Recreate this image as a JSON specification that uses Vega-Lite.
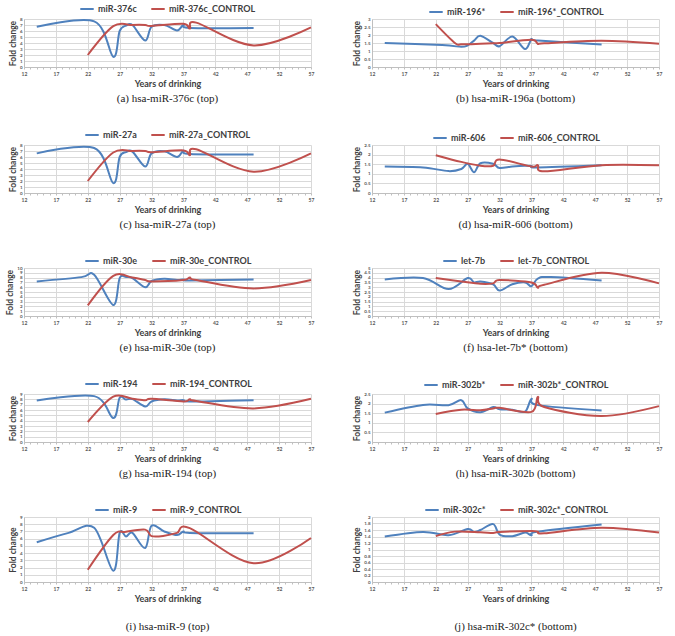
{
"$schema": "https://vega.github.io/schema/vega-lite/v6.json",
"padding": {"left": 5, "top": 1, "right": 4, "bottom": 2},
"background": "white",
"data": {"values": [
{"panel":"a","series":"miR-376c","year":14,"fold":6.7},{"panel":"a","series":"miR-376c","year":23,"fold":7.6},{"panel":"a","series":"miR-376c","year":26,"fold":1.7},{"panel":"a","series":"miR-376c","year":27,"fold":6.0},{"panel":"a","series":"miR-376c","year":28,"fold":6.9},{"panel":"a","series":"miR-376c","year":29,"fold":7.0},{"panel":"a","series":"miR-376c","year":31,"fold":4.4},{"panel":"a","series":"miR-376c","year":32,"fold":6.7},{"panel":"a","series":"miR-376c","year":34,"fold":7.0},{"panel":"a","series":"miR-376c","year":36,"fold":6.1},{"panel":"a","series":"miR-376c","year":37,"fold":7.0},{"panel":"a","series":"miR-376c","year":38,"fold":6.5},{"panel":"a","series":"miR-376c","year":48,"fold":6.5},
{"panel":"a","series":"miR-376c_CONTROL","year":22,"fold":2.0},{"panel":"a","series":"miR-376c_CONTROL","year":26,"fold":6.8},{"panel":"a","series":"miR-376c_CONTROL","year":29,"fold":7.0},{"panel":"a","series":"miR-376c_CONTROL","year":31,"fold":7.0},{"panel":"a","series":"miR-376c_CONTROL","year":32,"fold":6.85},{"panel":"a","series":"miR-376c_CONTROL","year":37,"fold":7.2},{"panel":"a","series":"miR-376c_CONTROL","year":38,"fold":6.4},{"panel":"a","series":"miR-376c_CONTROL","year":39,"fold":7.4},{"panel":"a","series":"miR-376c_CONTROL","year":48,"fold":3.6},{"panel":"a","series":"miR-376c_CONTROL","year":57,"fold":6.6},
{"panel":"b","series":"miR-196*","year":14,"fold":1.5},{"panel":"b","series":"miR-196*","year":23,"fold":1.37},{"panel":"b","series":"miR-196*","year":26,"fold":1.26},{"panel":"b","series":"miR-196*","year":27,"fold":1.35},{"panel":"b","series":"miR-196*","year":28,"fold":1.65},{"panel":"b","series":"miR-196*","year":29,"fold":1.95},{"panel":"b","series":"miR-196*","year":31,"fold":1.5},{"panel":"b","series":"miR-196*","year":32,"fold":1.3},{"panel":"b","series":"miR-196*","year":34,"fold":1.9},{"panel":"b","series":"miR-196*","year":36,"fold":1.12},{"panel":"b","series":"miR-196*","year":37,"fold":1.72},{"panel":"b","series":"miR-196*","year":38,"fold":1.65},{"panel":"b","series":"miR-196*","year":48,"fold":1.4},
{"panel":"b","series":"miR-196*_CONTROL","year":22,"fold":2.68},{"panel":"b","series":"miR-196*_CONTROL","year":25,"fold":1.5},{"panel":"b","series":"miR-196*_CONTROL","year":26,"fold":1.42},{"panel":"b","series":"miR-196*_CONTROL","year":29,"fold":1.45},{"panel":"b","series":"miR-196*_CONTROL","year":31,"fold":1.48},{"panel":"b","series":"miR-196*_CONTROL","year":32,"fold":1.5},{"panel":"b","series":"miR-196*_CONTROL","year":37,"fold":1.7},{"panel":"b","series":"miR-196*_CONTROL","year":38,"fold":1.45},{"panel":"b","series":"miR-196*_CONTROL","year":39,"fold":1.48},{"panel":"b","series":"miR-196*_CONTROL","year":48,"fold":1.64},{"panel":"b","series":"miR-196*_CONTROL","year":57,"fold":1.45},
{"panel":"c","series":"miR-27a","year":14,"fold":6.6},{"panel":"c","series":"miR-27a","year":23,"fold":7.5},{"panel":"c","series":"miR-27a","year":26,"fold":1.65},{"panel":"c","series":"miR-27a","year":27,"fold":6.0},{"panel":"c","series":"miR-27a","year":28,"fold":6.8},{"panel":"c","series":"miR-27a","year":29,"fold":6.9},{"panel":"c","series":"miR-27a","year":31,"fold":4.4},{"panel":"c","series":"miR-27a","year":32,"fold":6.6},{"panel":"c","series":"miR-27a","year":34,"fold":6.95},{"panel":"c","series":"miR-27a","year":36,"fold":6.0},{"panel":"c","series":"miR-27a","year":37,"fold":7.05},{"panel":"c","series":"miR-27a","year":38,"fold":6.5},{"panel":"c","series":"miR-27a","year":48,"fold":6.4},
{"panel":"c","series":"miR-27a_CONTROL","year":22,"fold":2.0},{"panel":"c","series":"miR-27a_CONTROL","year":26,"fold":6.75},{"panel":"c","series":"miR-27a_CONTROL","year":29,"fold":7.0},{"panel":"c","series":"miR-27a_CONTROL","year":31,"fold":7.0},{"panel":"c","series":"miR-27a_CONTROL","year":32,"fold":6.8},{"panel":"c","series":"miR-27a_CONTROL","year":37,"fold":7.1},{"panel":"c","series":"miR-27a_CONTROL","year":38,"fold":6.3},{"panel":"c","series":"miR-27a_CONTROL","year":39,"fold":7.3},{"panel":"c","series":"miR-27a_CONTROL","year":48,"fold":3.55},{"panel":"c","series":"miR-27a_CONTROL","year":57,"fold":6.6},
{"panel":"d","series":"miR-606","year":14,"fold":1.38},{"panel":"d","series":"miR-606","year":20,"fold":1.33},{"panel":"d","series":"miR-606","year":24,"fold":1.14},{"panel":"d","series":"miR-606","year":26,"fold":1.25},{"panel":"d","series":"miR-606","year":27,"fold":1.52},{"panel":"d","series":"miR-606","year":28,"fold":1.08},{"panel":"d","series":"miR-606","year":29,"fold":1.55},{"panel":"d","series":"miR-606","year":31,"fold":1.52},{"panel":"d","series":"miR-606","year":32,"fold":1.3},{"panel":"d","series":"miR-606","year":34,"fold":1.38},{"panel":"d","series":"miR-606","year":36,"fold":1.42},{"panel":"d","series":"miR-606","year":37,"fold":1.4},{"panel":"d","series":"miR-606","year":38,"fold":1.33},{"panel":"d","series":"miR-606","year":48,"fold":1.44},
{"panel":"d","series":"miR-606_CONTROL","year":22,"fold":1.97},{"panel":"d","series":"miR-606_CONTROL","year":26,"fold":1.62},{"panel":"d","series":"miR-606_CONTROL","year":29,"fold":1.42},{"panel":"d","series":"miR-606_CONTROL","year":31,"fold":1.42},{"panel":"d","series":"miR-606_CONTROL","year":32,"fold":1.75},{"panel":"d","series":"miR-606_CONTROL","year":37,"fold":1.38},{"panel":"d","series":"miR-606_CONTROL","year":38,"fold":1.45},{"panel":"d","series":"miR-606_CONTROL","year":39,"fold":1.13},{"panel":"d","series":"miR-606_CONTROL","year":48,"fold":1.45},{"panel":"d","series":"miR-606_CONTROL","year":57,"fold":1.44},
{"panel":"e","series":"miR-30e","year":14,"fold":7.2},{"panel":"e","series":"miR-30e","year":21,"fold":8.1},{"panel":"e","series":"miR-30e","year":23,"fold":8.6},{"panel":"e","series":"miR-30e","year":26,"fold":2.3},{"panel":"e","series":"miR-30e","year":27,"fold":7.9},{"panel":"e","series":"miR-30e","year":28,"fold":8.1},{"panel":"e","series":"miR-30e","year":29,"fold":7.9},{"panel":"e","series":"miR-30e","year":31,"fold":6.0},{"panel":"e","series":"miR-30e","year":32,"fold":7.3},{"panel":"e","series":"miR-30e","year":34,"fold":7.75},{"panel":"e","series":"miR-30e","year":36,"fold":7.5},{"panel":"e","series":"miR-30e","year":37,"fold":7.6},{"panel":"e","series":"miR-30e","year":38,"fold":7.4},{"panel":"e","series":"miR-30e","year":48,"fold":7.6},
{"panel":"e","series":"miR-30e_CONTROL","year":22,"fold":2.2},{"panel":"e","series":"miR-30e_CONTROL","year":26,"fold":8.35},{"panel":"e","series":"miR-30e_CONTROL","year":29,"fold":8.0},{"panel":"e","series":"miR-30e_CONTROL","year":31,"fold":7.5},{"panel":"e","series":"miR-30e_CONTROL","year":32,"fold":7.2},{"panel":"e","series":"miR-30e_CONTROL","year":37,"fold":7.5},{"panel":"e","series":"miR-30e_CONTROL","year":38,"fold":8.0},{"panel":"e","series":"miR-30e_CONTROL","year":39,"fold":7.5},{"panel":"e","series":"miR-30e_CONTROL","year":48,"fold":5.75},{"panel":"e","series":"miR-30e_CONTROL","year":57,"fold":7.5},
{"panel":"f","series":"let-7b","year":14,"fold":3.8},{"panel":"f","series":"let-7b","year":20,"fold":3.95},{"panel":"f","series":"let-7b","year":24,"fold":2.8},{"panel":"f","series":"let-7b","year":27,"fold":3.95},{"panel":"f","series":"let-7b","year":28,"fold":3.5},{"panel":"f","series":"let-7b","year":29,"fold":3.6},{"panel":"f","series":"let-7b","year":31,"fold":3.3},{"panel":"f","series":"let-7b","year":32,"fold":2.65},{"panel":"f","series":"let-7b","year":34,"fold":3.3},{"panel":"f","series":"let-7b","year":36,"fold":3.5},{"panel":"f","series":"let-7b","year":37,"fold":3.1},{"panel":"f","series":"let-7b","year":38,"fold":3.9},{"panel":"f","series":"let-7b","year":40,"fold":4.05},{"panel":"f","series":"let-7b","year":48,"fold":3.7},
{"panel":"f","series":"let-7b_CONTROL","year":22,"fold":3.97},{"panel":"f","series":"let-7b_CONTROL","year":26,"fold":3.6},{"panel":"f","series":"let-7b_CONTROL","year":29,"fold":3.35},{"panel":"f","series":"let-7b_CONTROL","year":31,"fold":3.4},{"panel":"f","series":"let-7b_CONTROL","year":32,"fold":3.75},{"panel":"f","series":"let-7b_CONTROL","year":37,"fold":3.5},{"panel":"f","series":"let-7b_CONTROL","year":38,"fold":2.95},{"panel":"f","series":"let-7b_CONTROL","year":39,"fold":3.25},{"panel":"f","series":"let-7b_CONTROL","year":48,"fold":4.5},{"panel":"f","series":"let-7b_CONTROL","year":57,"fold":3.4},
{"panel":"g","series":"miR-194","year":14,"fold":7.8},{"panel":"g","series":"miR-194","year":23,"fold":8.6},{"panel":"g","series":"miR-194","year":26,"fold":4.5},{"panel":"g","series":"miR-194","year":27,"fold":8.3},{"panel":"g","series":"miR-194","year":28,"fold":7.95},{"panel":"g","series":"miR-194","year":29,"fold":8.05},{"panel":"g","series":"miR-194","year":31,"fold":6.65},{"panel":"g","series":"miR-194","year":32,"fold":7.6},{"panel":"g","series":"miR-194","year":34,"fold":8.0},{"panel":"g","series":"miR-194","year":36,"fold":7.8},{"panel":"g","series":"miR-194","year":37,"fold":7.85},{"panel":"g","series":"miR-194","year":38,"fold":7.6},{"panel":"g","series":"miR-194","year":48,"fold":7.85},
{"panel":"g","series":"miR-194_CONTROL","year":22,"fold":3.75},{"panel":"g","series":"miR-194_CONTROL","year":26,"fold":8.5},{"panel":"g","series":"miR-194_CONTROL","year":29,"fold":8.1},{"panel":"g","series":"miR-194_CONTROL","year":31,"fold":7.85},{"panel":"g","series":"miR-194_CONTROL","year":32,"fold":8.1},{"panel":"g","series":"miR-194_CONTROL","year":37,"fold":7.6},{"panel":"g","series":"miR-194_CONTROL","year":38,"fold":8.0},{"panel":"g","series":"miR-194_CONTROL","year":39,"fold":7.7},{"panel":"g","series":"miR-194_CONTROL","year":48,"fold":6.3},{"panel":"g","series":"miR-194_CONTROL","year":57,"fold":8.1},
{"panel":"h","series":"miR-302b*","year":14,"fold":1.53},{"panel":"h","series":"miR-302b*","year":20,"fold":1.93},{"panel":"h","series":"miR-302b*","year":24,"fold":1.92},{"panel":"h","series":"miR-302b*","year":26,"fold":2.18},{"panel":"h","series":"miR-302b*","year":27,"fold":1.75},{"panel":"h","series":"miR-302b*","year":29,"fold":1.55},{"panel":"h","series":"miR-302b*","year":31,"fold":1.82},{"panel":"h","series":"miR-302b*","year":32,"fold":1.7},{"panel":"h","series":"miR-302b*","year":34,"fold":1.68},{"panel":"h","series":"miR-302b*","year":36,"fold":1.58},{"panel":"h","series":"miR-302b*","year":37,"fold":2.25},{"panel":"h","series":"miR-302b*","year":38,"fold":1.92},{"panel":"h","series":"miR-302b*","year":48,"fold":1.64},
{"panel":"h","series":"miR-302b*_CONTROL","year":22,"fold":1.46},{"panel":"h","series":"miR-302b*_CONTROL","year":26,"fold":1.68},{"panel":"h","series":"miR-302b*_CONTROL","year":29,"fold":1.65},{"panel":"h","series":"miR-302b*_CONTROL","year":31,"fold":1.75},{"panel":"h","series":"miR-302b*_CONTROL","year":32,"fold":1.78},{"panel":"h","series":"miR-302b*_CONTROL","year":37,"fold":1.57},{"panel":"h","series":"miR-302b*_CONTROL","year":38,"fold":2.35},{"panel":"h","series":"miR-302b*_CONTROL","year":39,"fold":1.82},{"panel":"h","series":"miR-302b*_CONTROL","year":48,"fold":1.35},{"panel":"h","series":"miR-302b*_CONTROL","year":57,"fold":1.87},
{"panel":"i","series":"miR-9","year":14,"fold":5.5},{"panel":"i","series":"miR-9","year":19,"fold":6.8},{"panel":"i","series":"miR-9","year":23,"fold":7.5},{"panel":"i","series":"miR-9","year":26,"fold":1.55},{"panel":"i","series":"miR-9","year":27,"fold":6.8},{"panel":"i","series":"miR-9","year":28,"fold":6.3},{"panel":"i","series":"miR-9","year":29,"fold":6.8},{"panel":"i","series":"miR-9","year":31,"fold":4.7},{"panel":"i","series":"miR-9","year":32,"fold":7.8},{"panel":"i","series":"miR-9","year":34,"fold":7.0},{"panel":"i","series":"miR-9","year":36,"fold":6.5},{"panel":"i","series":"miR-9","year":37,"fold":7.0},{"panel":"i","series":"miR-9","year":38,"fold":6.8},{"panel":"i","series":"miR-9","year":48,"fold":6.75},
{"panel":"i","series":"miR-9_CONTROL","year":22,"fold":1.7},{"panel":"i","series":"miR-9_CONTROL","year":26,"fold":6.5},{"panel":"i","series":"miR-9_CONTROL","year":28,"fold":6.95},{"panel":"i","series":"miR-9_CONTROL","year":31,"fold":7.25},{"panel":"i","series":"miR-9_CONTROL","year":32,"fold":6.35},{"panel":"i","series":"miR-9_CONTROL","year":34,"fold":6.4},{"panel":"i","series":"miR-9_CONTROL","year":36,"fold":6.8},{"panel":"i","series":"miR-9_CONTROL","year":38,"fold":7.45},{"panel":"i","series":"miR-9_CONTROL","year":48,"fold":2.6},{"panel":"i","series":"miR-9_CONTROL","year":57,"fold":6.1},
{"panel":"j","series":"miR-302c*","year":14,"fold":1.4},{"panel":"j","series":"miR-302c*","year":20,"fold":1.54},{"panel":"j","series":"miR-302c*","year":24,"fold":1.44},{"panel":"j","series":"miR-302c*","year":27,"fold":1.63},{"panel":"j","series":"miR-302c*","year":28,"fold":1.54},{"panel":"j","series":"miR-302c*","year":29,"fold":1.6},{"panel":"j","series":"miR-302c*","year":31,"fold":1.78},{"panel":"j","series":"miR-302c*","year":32,"fold":1.46},{"panel":"j","series":"miR-302c*","year":34,"fold":1.41},{"panel":"j","series":"miR-302c*","year":36,"fold":1.52},{"panel":"j","series":"miR-302c*","year":37,"fold":1.44},{"panel":"j","series":"miR-302c*","year":38,"fold":1.55},{"panel":"j","series":"miR-302c*","year":48,"fold":1.77},
{"panel":"j","series":"miR-302c*_CONTROL","year":22,"fold":1.41},{"panel":"j","series":"miR-302c*_CONTROL","year":25,"fold":1.55},{"panel":"j","series":"miR-302c*_CONTROL","year":29,"fold":1.53},{"panel":"j","series":"miR-302c*_CONTROL","year":31,"fold":1.51},{"panel":"j","series":"miR-302c*_CONTROL","year":32,"fold":1.54},{"panel":"j","series":"miR-302c*_CONTROL","year":37,"fold":1.57},{"panel":"j","series":"miR-302c*_CONTROL","year":38,"fold":1.55},{"panel":"j","series":"miR-302c*_CONTROL","year":39,"fold":1.5},{"panel":"j","series":"miR-302c*_CONTROL","year":48,"fold":1.67},{"panel":"j","series":"miR-302c*_CONTROL","year":57,"fold":1.52}
]},
"columns": 2,
"align": "each",
"spacing": {"row": 23, "column": 37},
"resolve": {"scale": {"color": "independent"}, "legend": {"color": "independent"}},
"concat": [
{"width": 287, "height": 48, "title": "(a) hsa-miR-376c (top)",
 "transform": [{"filter": "datum.panel === 'a'"}],
 "mark": {"type": "line", "interpolate": "cardinal", "strokeWidth": 2},
 "encoding": {
  "x": {"field": "year", "type": "quantitative", "scale": {"domain": [12, 57], "nice": false}, "axis": {"title": "Years of drinking", "values": [12,13,14,15,16,17,18,19,20,21,22,23,24,25,26,27,28,29,30,31,32,33,34,35,36,37,38,39,40,41,42,43,44,45,46,47,48,49,50,51,52,53,54,55,56,57], "labelExpr": "(datum.value - 12) % 5 === 0 ? datum.label : ''", "gridOpacity": {"condition": {"test": "(datum.value - 12) % 5 === 0", "value": 1}, "value": 0}}},
  "y": {"field": "fold", "type": "quantitative", "scale": {"domain": [0, 8], "nice": false}, "axis": {"title": "Fold change", "values": [0,1,2,3,4,5,6,7,8]}},
  "color": {"field": "series", "type": "nominal", "scale": {"domain": ["miR-376c", "miR-376c_CONTROL"], "range": ["#4F81BD", "#C0504D"]}}
 }},
{"width": 287, "height": 48, "title": "(b) hsa-miR-196a (bottom)",
 "transform": [{"filter": "datum.panel === 'b'"}],
 "mark": {"type": "line", "interpolate": "cardinal", "strokeWidth": 2},
 "encoding": {
  "x": {"field": "year", "type": "quantitative", "scale": {"domain": [12, 57], "nice": false}, "axis": {"title": "Years of drinking", "values": [12,13,14,15,16,17,18,19,20,21,22,23,24,25,26,27,28,29,30,31,32,33,34,35,36,37,38,39,40,41,42,43,44,45,46,47,48,49,50,51,52,53,54,55,56,57], "labelExpr": "(datum.value - 12) % 5 === 0 ? datum.label : ''", "gridOpacity": {"condition": {"test": "(datum.value - 12) % 5 === 0", "value": 1}, "value": 0}}},
  "y": {"field": "fold", "type": "quantitative", "scale": {"domain": [0, 3], "nice": false}, "axis": {"title": "Fold change", "values": [0,0.5,1,1.5,2,2.5,3]}},
  "color": {"field": "series", "type": "nominal", "scale": {"domain": ["miR-196*", "miR-196*_CONTROL"], "range": ["#4F81BD", "#C0504D"]}}
 }},
{"width": 287, "height": 48, "title": "(c) hsa-miR-27a (top)",
 "transform": [{"filter": "datum.panel === 'c'"}],
 "mark": {"type": "line", "interpolate": "cardinal", "strokeWidth": 2},
 "encoding": {
  "x": {"field": "year", "type": "quantitative", "scale": {"domain": [12, 57], "nice": false}, "axis": {"title": "Years of drinking", "values": [12,13,14,15,16,17,18,19,20,21,22,23,24,25,26,27,28,29,30,31,32,33,34,35,36,37,38,39,40,41,42,43,44,45,46,47,48,49,50,51,52,53,54,55,56,57], "labelExpr": "(datum.value - 12) % 5 === 0 ? datum.label : ''", "gridOpacity": {"condition": {"test": "(datum.value - 12) % 5 === 0", "value": 1}, "value": 0}}},
  "y": {"field": "fold", "type": "quantitative", "scale": {"domain": [0, 8], "nice": false}, "axis": {"title": "Fold change", "values": [0,1,2,3,4,5,6,7,8]}},
  "color": {"field": "series", "type": "nominal", "scale": {"domain": ["miR-27a", "miR-27a_CONTROL"], "range": ["#4F81BD", "#C0504D"]}}
 }},
{"width": 287, "height": 48, "title": "(d) hsa-miR-606 (bottom)",
 "transform": [{"filter": "datum.panel === 'd'"}],
 "mark": {"type": "line", "interpolate": "cardinal", "strokeWidth": 2},
 "encoding": {
  "x": {"field": "year", "type": "quantitative", "scale": {"domain": [12, 57], "nice": false}, "axis": {"title": "Years of drinking", "values": [12,13,14,15,16,17,18,19,20,21,22,23,24,25,26,27,28,29,30,31,32,33,34,35,36,37,38,39,40,41,42,43,44,45,46,47,48,49,50,51,52,53,54,55,56,57], "labelExpr": "(datum.value - 12) % 5 === 0 ? datum.label : ''", "gridOpacity": {"condition": {"test": "(datum.value - 12) % 5 === 0", "value": 1}, "value": 0}}},
  "y": {"field": "fold", "type": "quantitative", "scale": {"domain": [0, 2.5], "nice": false}, "axis": {"title": "Fold change", "values": [0,0.5,1,1.5,2,2.5]}},
  "color": {"field": "series", "type": "nominal", "scale": {"domain": ["miR-606", "miR-606_CONTROL"], "range": ["#4F81BD", "#C0504D"]}}
 }},
{"width": 287, "height": 48, "title": "(e) hsa-miR-30e (top)",
 "transform": [{"filter": "datum.panel === 'e'"}],
 "mark": {"type": "line", "interpolate": "cardinal", "strokeWidth": 2},
 "encoding": {
  "x": {"field": "year", "type": "quantitative", "scale": {"domain": [12, 57], "nice": false}, "axis": {"title": "Years of drinking", "values": [12,13,14,15,16,17,18,19,20,21,22,23,24,25,26,27,28,29,30,31,32,33,34,35,36,37,38,39,40,41,42,43,44,45,46,47,48,49,50,51,52,53,54,55,56,57], "labelExpr": "(datum.value - 12) % 5 === 0 ? datum.label : ''", "gridOpacity": {"condition": {"test": "(datum.value - 12) % 5 === 0", "value": 1}, "value": 0}}},
  "y": {"field": "fold", "type": "quantitative", "scale": {"domain": [0, 10], "nice": false}, "axis": {"title": "Fold change", "values": [0,1,2,3,4,5,6,7,8,9,10]}},
  "color": {"field": "series", "type": "nominal", "scale": {"domain": ["miR-30e", "miR-30e_CONTROL"], "range": ["#4F81BD", "#C0504D"]}}
 }},
{"width": 287, "height": 48, "title": "(f) hsa-let-7b* (bottom)",
 "transform": [{"filter": "datum.panel === 'f'"}],
 "mark": {"type": "line", "interpolate": "cardinal", "strokeWidth": 2},
 "encoding": {
  "x": {"field": "year", "type": "quantitative", "scale": {"domain": [12, 57], "nice": false}, "axis": {"title": "Years of drinking", "values": [12,13,14,15,16,17,18,19,20,21,22,23,24,25,26,27,28,29,30,31,32,33,34,35,36,37,38,39,40,41,42,43,44,45,46,47,48,49,50,51,52,53,54,55,56,57], "labelExpr": "(datum.value - 12) % 5 === 0 ? datum.label : ''", "gridOpacity": {"condition": {"test": "(datum.value - 12) % 5 === 0", "value": 1}, "value": 0}}},
  "y": {"field": "fold", "type": "quantitative", "scale": {"domain": [0, 5], "nice": false}, "axis": {"title": "Fold change", "values": [0,0.5,1,1.5,2,2.5,3,3.5,4,4.5,5]}},
  "color": {"field": "series", "type": "nominal", "scale": {"domain": ["let-7b", "let-7b_CONTROL"], "range": ["#4F81BD", "#C0504D"]}}
 }},
{"width": 287, "height": 48, "title": "(g) hsa-miR-194 (top)",
 "transform": [{"filter": "datum.panel === 'g'"}],
 "mark": {"type": "line", "interpolate": "cardinal", "strokeWidth": 2},
 "encoding": {
  "x": {"field": "year", "type": "quantitative", "scale": {"domain": [12, 57], "nice": false}, "axis": {"title": "Years of drinking", "values": [12,13,14,15,16,17,18,19,20,21,22,23,24,25,26,27,28,29,30,31,32,33,34,35,36,37,38,39,40,41,42,43,44,45,46,47,48,49,50,51,52,53,54,55,56,57], "labelExpr": "(datum.value - 12) % 5 === 0 ? datum.label : ''", "gridOpacity": {"condition": {"test": "(datum.value - 12) % 5 === 0", "value": 1}, "value": 0}}},
  "y": {"field": "fold", "type": "quantitative", "scale": {"domain": [0, 9], "nice": false}, "axis": {"title": "Fold change", "values": [0,1,2,3,4,5,6,7,8,9]}},
  "color": {"field": "series", "type": "nominal", "scale": {"domain": ["miR-194", "miR-194_CONTROL"], "range": ["#4F81BD", "#C0504D"]}}
 }},
{"width": 287, "height": 48, "title": "(h) hsa-miR-302b (bottom)",
 "transform": [{"filter": "datum.panel === 'h'"}],
 "mark": {"type": "line", "interpolate": "cardinal", "strokeWidth": 2},
 "encoding": {
  "x": {"field": "year", "type": "quantitative", "scale": {"domain": [12, 57], "nice": false}, "axis": {"title": "Years of drinking", "values": [12,13,14,15,16,17,18,19,20,21,22,23,24,25,26,27,28,29,30,31,32,33,34,35,36,37,38,39,40,41,42,43,44,45,46,47,48,49,50,51,52,53,54,55,56,57], "labelExpr": "(datum.value - 12) % 5 === 0 ? datum.label : ''", "gridOpacity": {"condition": {"test": "(datum.value - 12) % 5 === 0", "value": 1}, "value": 0}}},
  "y": {"field": "fold", "type": "quantitative", "scale": {"domain": [0, 2.5], "nice": false}, "axis": {"title": "Fold change", "values": [0,0.5,1,1.5,2,2.5]}},
  "color": {"field": "series", "type": "nominal", "scale": {"domain": ["miR-302b*", "miR-302b*_CONTROL"], "range": ["#4F81BD", "#C0504D"]}}
 }},
{"width": 287, "height": 65, "title": {"text": "(i) hsa-miR-9 (top)", "offset": 18},
 "transform": [{"filter": "datum.panel === 'i'"}],
 "mark": {"type": "line", "interpolate": "cardinal", "strokeWidth": 2},
 "encoding": {
  "x": {"field": "year", "type": "quantitative", "scale": {"domain": [12, 57], "nice": false}, "axis": {"title": "Years of drinking", "values": [12,13,14,15,16,17,18,19,20,21,22,23,24,25,26,27,28,29,30,31,32,33,34,35,36,37,38,39,40,41,42,43,44,45,46,47,48,49,50,51,52,53,54,55,56,57], "labelExpr": "(datum.value - 12) % 5 === 0 ? datum.label : ''", "gridOpacity": {"condition": {"test": "(datum.value - 12) % 5 === 0", "value": 1}, "value": 0}}},
  "y": {"field": "fold", "type": "quantitative", "scale": {"domain": [0, 9], "nice": false}, "axis": {"title": "Fold change", "values": [0,1,2,3,4,5,6,7,8,9]}},
  "color": {"field": "series", "type": "nominal", "scale": {"domain": ["miR-9", "miR-9_CONTROL"], "range": ["#4F81BD", "#C0504D"]}}
 }},
{"width": 287, "height": 65, "title": {"text": "(j) hsa-miR-302c* (bottom)", "offset": 18},
 "transform": [{"filter": "datum.panel === 'j'"}],
 "mark": {"type": "line", "interpolate": "cardinal", "strokeWidth": 2},
 "encoding": {
  "x": {"field": "year", "type": "quantitative", "scale": {"domain": [12, 57], "nice": false}, "axis": {"title": "Years of drinking", "values": [12,13,14,15,16,17,18,19,20,21,22,23,24,25,26,27,28,29,30,31,32,33,34,35,36,37,38,39,40,41,42,43,44,45,46,47,48,49,50,51,52,53,54,55,56,57], "labelExpr": "(datum.value - 12) % 5 === 0 ? datum.label : ''", "gridOpacity": {"condition": {"test": "(datum.value - 12) % 5 === 0", "value": 1}, "value": 0}}},
  "y": {"field": "fold", "type": "quantitative", "scale": {"domain": [0, 2], "nice": false}, "axis": {"title": "Fold change", "values": [0,0.2,0.4,0.6,0.8,1,1.2,1.4,1.6,1.8,2]}},
  "color": {"field": "series", "type": "nominal", "scale": {"domain": ["miR-302c*", "miR-302c*_CONTROL"], "range": ["#4F81BD", "#C0504D"]}}
 }}
],
"config": {
 "view": {"stroke": null},
 "font": "Lato",
 "axis": {"labelFont": "Lato", "labelFontWeight": "bold", "labelColor": "#595959", "titleFont": "Lato", "titleFontWeight": "bold", "titleColor": "#404040", "gridColor": "#d9d9d9", "domainColor": "#bfbfbf", "tickColor": "#bfbfbf", "labelOverlap": false, "labelFlush": false},
 "axisX": {"tickSize": 2, "labelPadding": 2, "labelFontSize": 5, "titleFontSize": 9, "titlePadding": 3, "format": "d"},
 "axisY": {"ticks": false, "labelPadding": 2, "labelFontSize": 4.5, "titleFontSize": 8.5, "titlePadding": 2, "format": "~f"},
 "legend": {"orient": "top", "direction": "horizontal", "title": null, "symbolType": "stroke", "symbolStrokeWidth": 2, "symbolSize": 180, "labelFont": "Lato", "labelFontSize": 9, "labelFontWeight": "bold", "labelColor": "#404040", "columnPadding": 10, "labelOffset": 3, "padding": 0, "offset": 2, "layout": {"top": {"anchor": "middle"}}},
 "title": {"orient": "bottom", "font": "Liberation Serif", "fontSize": 11, "fontWeight": "normal", "color": "#222222", "offset": 5, "anchor": "middle"}
}
}
